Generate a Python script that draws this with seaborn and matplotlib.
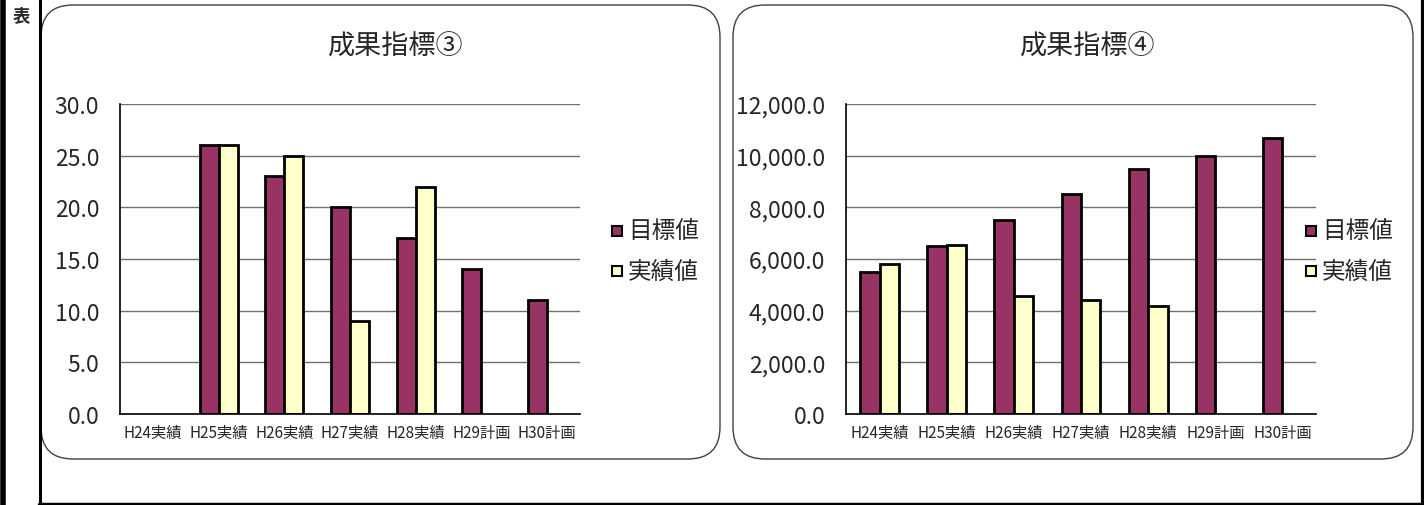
import numpy as np
import pandas as pd
import matplotlib
matplotlib.use("Agg")
import matplotlib.pyplot as plt
import seaborn as sns
from matplotlib.patches import FancyBboxPatch, Rectangle
from matplotlib.lines import Line2D
from matplotlib.transforms import IdentityTransform

categories = ["H24実績", "H25実績", "H26実績", "H27実績", "H28実績", "H29計画", "H30計画"]
series_names = ["目標値", "実績値"]
target3 = [np.nan, 26, 23, 20, 17, 14, 11]
actual3 = [np.nan, 26, 25, 9, 22, np.nan, np.nan]
target4 = [5500, 6500, 7500, 8500, 9500, 10000, 10700]
actual4 = [5800, 6550, 4550, 4400, 4200, np.nan, np.nan]
titles = ["成果指標③", "成果指標④"]
colors = ["#993366", "#FFFFCC"]

sns.set_theme(style="white")
plt.rcParams['font.family'] = ['Noto Sans CJK JP', 'DejaVu Sans']

W, H = 1424, 506
fig = plt.figure(figsize=(W / 100, H / 100), dpi=100)

def fx(x):
    return x / W

def fy(y):
    return 1 - y / H

# outer frame lines
fig.add_artist(Line2D([fx(2.5), fx(2.5)], [0, 1], color="black", lw=4, transform=fig.transFigure))
fig.add_artist(Line2D([fx(39.5), fx(39.5)], [0, 1], color="black", lw=2.2, transform=fig.transFigure))
fig.add_artist(Line2D([fx(1422.5), fx(1422.5)], [0, 1], color="black", lw=3, transform=fig.transFigure))
fig.add_artist(Line2D([fx(39), 1], [fy(504.5), fy(504.5)], color="black", lw=2.5, transform=fig.transFigure))
fig.text(fx(21), fy(16), "表", ha="center", va="center", fontsize=12.5, weight="bold")

def make_df(t, a):
    rows = []
    for c, tv, av in zip(categories, t, a):
        rows.append({"cat": c, "series": series_names[0], "value": tv})
        rows.append({"cat": c, "series": series_names[1], "value": av})
    return pd.DataFrame(rows)

panels = [
    dict(box=(41, 6, 720, 460), ax=(120, 105, 580, 415), data=(target3, actual3),
         ylim=30, step=5, fmt="{:.1f}", leg=(612, 232), title_x=396),
    dict(box=(733, 6, 1413, 460), ax=(846, 105, 1316, 415), data=(target4, actual4),
         ylim=12000, step=2000, fmt="{:,.1f}", leg=(1306, 232), title_x=1088),
]

for i, p in enumerate(panels):
    x0, y0, x1, y1 = p["box"]
    box = FancyBboxPatch((x0, H - y1), x1 - x0, y1 - y0,
                         boxstyle="round,pad=0,rounding_size=32",
                         transform=IdentityTransform(), facecolor="white",
                         edgecolor="#404040", lw=1.0, zorder=0)
    fig.add_artist(box)
    ax0, ay0, ax1, ay1 = p["ax"]
    ax = fig.add_axes([fx(ax0), fy(ay1), fx(ax1 - ax0), (ay1 - ay0) / H])
    ax.set_facecolor("none")
    df = make_df(*p["data"])
    sns.barplot(data=df, x="cat", y="value", hue="series", palette=colors,
                width=0.58, edgecolor="black", linewidth=2, ax=ax, legend=False,
                saturation=1)
    ax.set_ylim(0, p["ylim"])
    ax.set_xlim(-0.5, len(categories) - 0.5)
    ticks = np.arange(0, p["ylim"] + 1e-9, p["step"])
    ax.set_yticks(ticks)
    ax.set_yticklabels([p["fmt"].format(v) for v in ticks], fontsize=16.5)
    ax.tick_params(axis="y", length=0, pad=15)
    ax.set_xticks(range(len(categories)))
    ax.set_xticklabels(categories, fontsize=11)
    ax.tick_params(axis="x", length=0, pad=7)
    ax.set_xticks(np.arange(0.5, len(categories) - 0.5, 1), minor=True)
    ax.tick_params(axis="x", which="minor", direction="in", length=4, color="#808080", width=1)
    ax.yaxis.grid(True, color="#707070", lw=1)
    ax.set_axisbelow(True)
    ax.set_xlabel("")
    ax.set_ylabel("")
    for s in ["top", "right"]:
        ax.spines[s].set_visible(False)
    for s in ["left", "bottom"]:
        ax.spines[s].set_color("black")
        ax.spines[s].set_linewidth(1.2)
    fig.text(fx(p["title_x"]), fy(47), titles[i], ha="center", va="center", fontsize=19.5)
    lx, ly = p["leg"]
    for j, name in enumerate(series_names):
        yy = ly + j * 40
        fig.add_artist(Rectangle((lx, H - yy - 5), 10, 10, transform=IdentityTransform(),
                                 facecolor=colors[j], edgecolor="black", lw=1.5))
        fig.text(fx(lx + 16), fy(yy), name, ha="left", va="center", fontsize=17)

fig.savefig("out.png", dpi=100)
